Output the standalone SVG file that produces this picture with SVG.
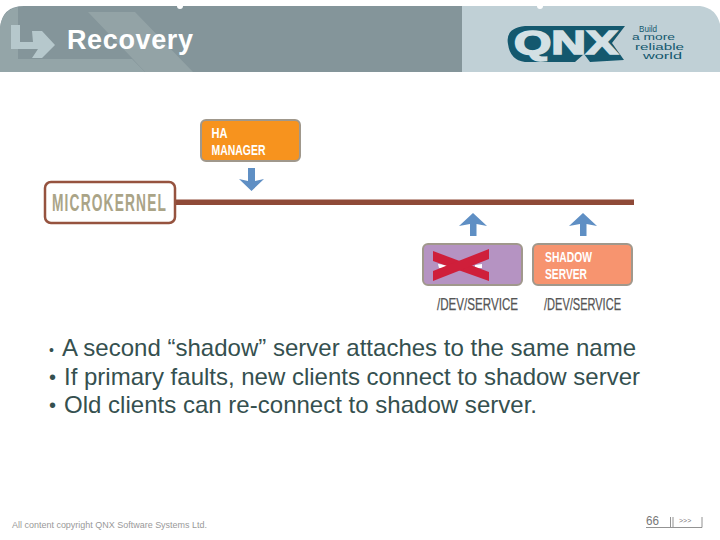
<svg xmlns="http://www.w3.org/2000/svg" width="720" height="540" viewBox="0 0 720 540">
<style>
.body{font-family:"Liberation Sans",Arial,sans-serif;font-size:24px;fill:#35504f}
.bullet{font-family:"Liberation Sans",Arial,sans-serif;font-size:20px;fill:#35504f}
.cond{font-family:"Liberation Sans Narrow","Liberation Sans",Arial,sans-serif;font-weight:bold}
.path{font-family:"Liberation Sans Narrow","Liberation Sans",Arial,sans-serif;font-size:17px;fill:#555;stroke:#555;stroke-width:.25}
.box{stroke:#a0988c;stroke-width:2}
.arrow{fill:#5f8fc4}
.tag{font-family:"Liberation Sans",Arial,sans-serif;fill:#14586e}
</style>
<rect width="720" height="540" fill="#fff"/>
<g id="header">
<path d="M0 72V28Q2 6 24 6H462V72Z" fill="#84959a"/>
<path d="M462 6H700Q716 8 720 24V72H462Z" fill="#c0d0d6"/>
<path d="M0 72V28Q2 10 18 7V59H132L145 72Z" fill="#94a5a8"/>
<path d="M88 12H135L193 72H145L132 58Z" fill="#93a3a6"/>
<path d="M11 25H20V42H33L32 31H42L55 45L42 58H32L38 49H11Z" fill="#b6c8cc"/>
<circle cx="180" cy="6" r="3" fill="#fff"/>
<circle cx="540" cy="6" r="3" fill="#fff"/>
<text x="67" y="49" font-family="Liberation Sans,Arial,sans-serif" font-size="27" font-weight="bold" fill="#fff" textLength="126">Recovery</text>
</g>
<g id="logo">
<path d="M508 44Q505 28 525 26H625L612 43L624 60L590 62L584 54L575 62H525Q510 60 508 44Z" fill="#14586e"/>
<text x="514" y="54" font-family="Liberation Sans,Arial,sans-serif" font-size="33" font-weight="bold" fill="#d3e0e4" stroke="#d3e0e4" stroke-width="1.600" textLength="104" lengthAdjust="spacingAndGlyphs">QNX</text>
<text class="tag" x="639" y="31.500" font-size="8.500" textLength="18" lengthAdjust="spacingAndGlyphs">Build</text>
<text class="tag" x="632" y="40" font-size="9" textLength="43" lengthAdjust="spacingAndGlyphs">a more</text>
<text class="tag" x="635" y="49.500" font-size="9" textLength="49" lengthAdjust="spacingAndGlyphs">reliable</text>
<text class="tag" x="643" y="59" font-size="9" textLength="39" lengthAdjust="spacingAndGlyphs">world</text>
</g>
<g id="connectors">
<rect x="176" y="199.500" width="458" height="5.500" fill="#8f4a38"/>
<path class="arrow" d="M248 168H255V181L264 179L251.500 191L239 179L248 181Z"/>
<path class="arrow" d="M470 236H476.500V224L487 226L473 213L459 226L470 224Z"/>
<path class="arrow" d="M580 236H586.500V224L597 226L583 213L569 226L580 224Z"/>
</g>
<g id="ha-manager">
<rect class="box" x="201" y="120" width="99" height="41" rx="5" fill="#f7931e"/>
<text class="cond" font-size="15.500" fill="#fff" x="211.500" y="138" textLength="16" lengthAdjust="spacingAndGlyphs">HA</text>
<text class="cond" font-size="15.500" fill="#fff" x="211.500" y="155" textLength="54" lengthAdjust="spacingAndGlyphs">MANAGER</text>
</g>
<g id="microkernel">
<rect x="45" y="182" width="130" height="41" rx="6" fill="#fff" stroke="#96533f" stroke-width="2.500"/>
<text class="cond" font-size="24" letter-spacing="2" fill="#aaa487" x="52" y="211" textLength="115" lengthAdjust="spacingAndGlyphs">MICROKERNEL</text>
</g>
<g id="primary-server">
<rect class="box" x="423" y="244" width="99" height="41" rx="5" fill="#b593c2"/>
<path d="M438 264L447 265L447 268L439 268ZM475 265L482 264L482 268L475 268Z" fill="#fff"/>
<path d="M433 251L489 272V281L433 261Z" fill="#cf1f3a"/>
<path d="M489 249V259L433 281V271Z" fill="#cf1f3a"/>
</g>
<g id="shadow-server">
<rect class="box" x="533" y="244" width="99" height="41" rx="5" fill="#f7946f"/>
<text class="cond" font-size="15.500" fill="#fff" x="545" y="262" textLength="47" lengthAdjust="spacingAndGlyphs">SHADOW</text>
<text class="cond" font-size="15.500" fill="#fff" x="545" y="279" textLength="42" lengthAdjust="spacingAndGlyphs">SERVER</text>
</g>
<g id="paths">
<text class="path" x="437" y="309.500" textLength="81" lengthAdjust="spacingAndGlyphs">/DEV/SERVICE</text>
<text class="path" x="544" y="309.500" textLength="77" lengthAdjust="spacingAndGlyphs">/DEV/SERVICE</text>
</g>
<g id="body-text">
<text class="bullet" x="49" y="355" style="font-size:14px">•</text>
<text class="body" x="62" y="356" textLength="574">A second “shadow” server attaches to the same name</text>
<text class="bullet" x="49" y="384">•</text>
<text class="body" x="64" y="385" textLength="576">If primary faults, new clients connect to shadow server</text>
<text class="bullet" x="49" y="412">•</text>
<text class="body" x="64" y="413" textLength="473">Old clients can re-connect to shadow server.</text>
</g>
<g id="footer" font-family="Liberation Sans,Arial,sans-serif" fill="#999">
<text x="12" y="528" font-size="9.500" textLength="195" lengthAdjust="spacingAndGlyphs">All content copyright QNX Software Systems Ltd.</text>
<text x="646" y="525" font-size="12" fill="#777" textLength="13" lengthAdjust="spacingAndGlyphs">66</text>
<text x="679" y="523" font-size="7" fill="#777">&gt;&gt;&gt;</text>
<path d="M646 527.500H702V517M670.500 517V527M673 517V527" fill="none" stroke="#777" stroke-width=".8"/>
</g>
</svg>
